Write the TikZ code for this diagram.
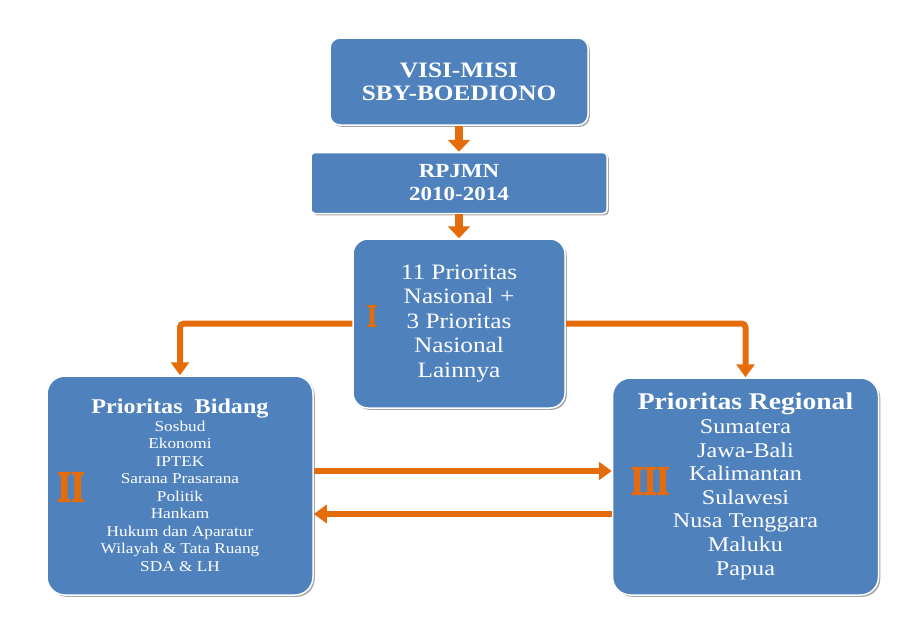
\documentclass[tikz,border=0pt]{standalone}
\usepackage{fontspec}
\setmainfont{Liberation Serif}[FakeStretch=1.15]
\newfontfamily\numfont{Liberation Serif Bold}[FakeStretch=0.8, FakeBold=3]
\usetikzlibrary{arrows.meta, positioning, shadows}
\definecolor{boxblue}{RGB}{79,129,189}
\definecolor{myorange}{RGB}{228,108,10}
\tikzset{
  bluebox/.style={rectangle, draw=white, fill=boxblue, line width=1.5pt,
    text=white, align=center, inner sep=0pt,
    drop shadow={shadow xshift=1.8pt, shadow yshift=-1.8pt, opacity=0.35, fill=black}},
  topbox/.style={bluebox, minimum width=258pt, minimum height=87pt,
    rounded corners=10pt, font=\fontsize{22}{23}\selectfont\bfseries},
  planbox/.style={bluebox, minimum width=296pt, minimum height=61pt,
    rounded corners=4pt, font=\fontsize{20}{23}\selectfont\bfseries},
  natbox/.style={bluebox, minimum width=212pt, minimum height=169pt,
    rounded corners=15pt, font=\fontsize{22}{24.5}\selectfont},
  bigbox/.style={bluebox, minimum width=266pt, minimum height=219pt,
    rounded corners=18pt},
  numlabel/.style={text=myorange, inner sep=0pt},
  bigarrow/.style={-{Triangle[width=22pt,length=12pt]}, line width=8pt, color=myorange},
  flowarrow/.style={-{Triangle[width=18pt,length=13pt]}, line width=6pt, color=myorange,
    rounded corners=4pt}
}
\begin{document}
\begin{tikzpicture}[x=1pt, y=-1pt]
  \useasboundingbox (0,0) rectangle (922,627);

  \node[topbox] (visi) at (459,81.5) {VISI-MISI\\SBY-BOEDIONO};
  \node[planbox, below=26pt of visi] (rpjmn) {RPJMN\\2010-2014};
  \node[natbox, below=24pt of rpjmn] (nasional)
    {11 Prioritas\\Nasional +\\3 Prioritas\\Nasional\\Lainnya};

  \node[bigbox, font=\fontsize{15}{17.5}\selectfont] (bidang) at (180,485.5)
    {{\fontsize{21}{19}\selectfont\bfseries Prioritas\ \ Bidang}\\
     Sosbud\\Ekonomi\\IPTEK\\Sarana Prasarana\\Politik\\Hankam\\
     Hukum dan Aparatur\\Wilayah \& Tata Ruang\\SDA \& LH};
  \node[bigbox, minimum height=217pt, font=\fontsize{21}{23.6}\selectfont] (regional) at (745.5,486.5)
    {{\fontsize{24}{24}\selectfont\bfseries Prioritas Regional}\\
     Sumatera\\Jawa-Bali\\Kalimantan\\Sulawesi\\Nusa Tenggara\\Maluku\\Papua};

  \node[numlabel, font=\numfont\fontsize{32}{32}\selectfont] (one) at (372,316) {I};
  \node[numlabel, font=\numfont\fontsize{44}{44}\selectfont] (two) at (71,487) {II};
  \node[numlabel, font=\numfont\fontsize{41}{41}\selectfont] (three) at (650,481) {III};

  \draw[bigarrow] (visi.south) -- (rpjmn.north);
  \draw[bigarrow] (rpjmn.south) -- (nasional.north);
  \draw[flowarrow] (nasional.west) -| (bidang.north);
  \draw[flowarrow] (nasional.east) -| (regional.north);

  \coordinate (goright) at ([yshift=14.5pt]bidang.east);
  \coordinate (goleft) at ([yshift=-28.5pt]bidang.east);
  \draw[flowarrow] (goright) -- (goright -| regional.west);
  \draw[flowarrow] (goleft -| regional.west) -- (goleft);
\end{tikzpicture}
\end{document}
